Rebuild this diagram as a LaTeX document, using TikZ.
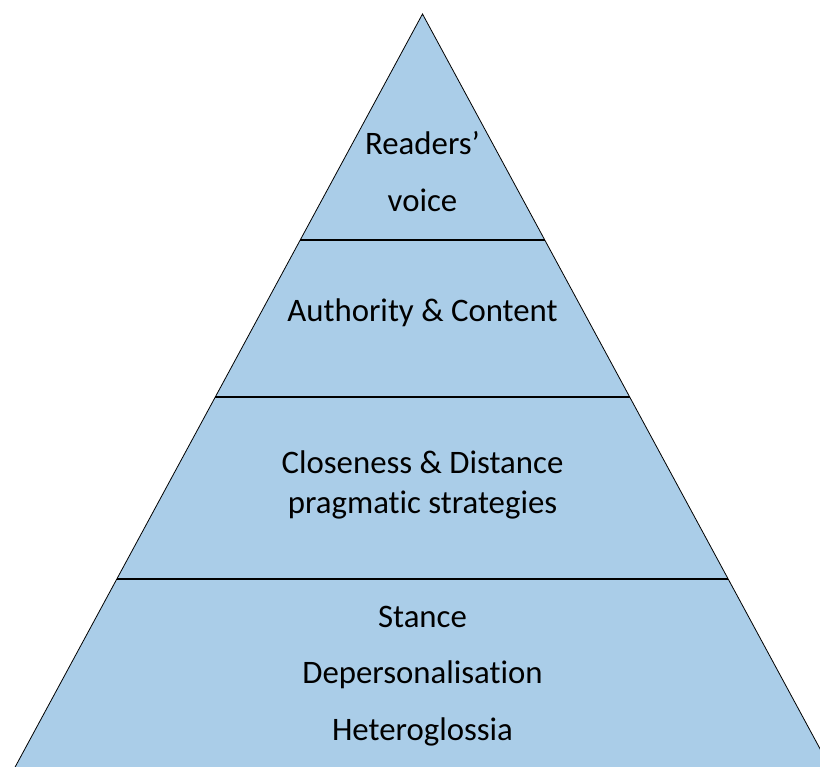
\documentclass[tikz,border=0pt]{standalone}
\usepackage{fontspec}
\setmainfont{Carlito}[Ligatures={NoCommon}]
\usetikzlibrary{calc}

\definecolor{capa}{RGB}{170,205,232}

\tikzset{
    etiqueta/.style={anchor=base, inner sep=0pt, font=\fontsize{32.8}{39}\selectfont},
    separador/.style={black, line width=1.2pt}
}

\begin{document}
\begin{tikzpicture}[x=1pt, y=-1pt]
    \useasboundingbox (0,0) rectangle (820,767);
    \clip (0,0) rectangle (820,767);

    % Vertices de la piramide (la base queda fuera del recorte)
    \coordinate (cima) at (422.5,14);
    \coordinate (izq) at (13.5,770);
    \coordinate (der) at (831.5,770);

    % Piramide
    \filldraw[fill=capa, draw=black, line width=0.8pt, line join=miter] (izq) -- (cima) -- (der) -- cycle;

    % Separadores entre capas
    \draw[separador] ($(cima)!0.299!(izq)$) -- ($(cima)!0.299!(der)$);
    \draw[separador] ($(cima)!0.5066!(izq)$) -- ($(cima)!0.5066!(der)$);
    \draw[separador] ($(cima)!0.7474!(izq)$) -- ($(cima)!0.7474!(der)$);

    % Textos
    \node[etiqueta] (lectores) at (422.5,155) {Readers'};
    \node[etiqueta] (voz) at (422.5,212) {voice};
    \node[etiqueta] (autoridad) at (422.5,322) {Authority \& Content};
    \node[etiqueta] (cercania) at (422.5,473) {Closeness \& Distance};
    \node[etiqueta] (pragmatica) at (422.5,513) {pragmatic strategies};
    \node[etiqueta] (postura) at (422.5,627) {Stance};
    \node[etiqueta] (despersonal) at (422.5,683) {Depersonalisation};
    \node[etiqueta] (heteroglosia) at (422.5,740) {Heteroglossia};
\end{tikzpicture}
\end{document}
